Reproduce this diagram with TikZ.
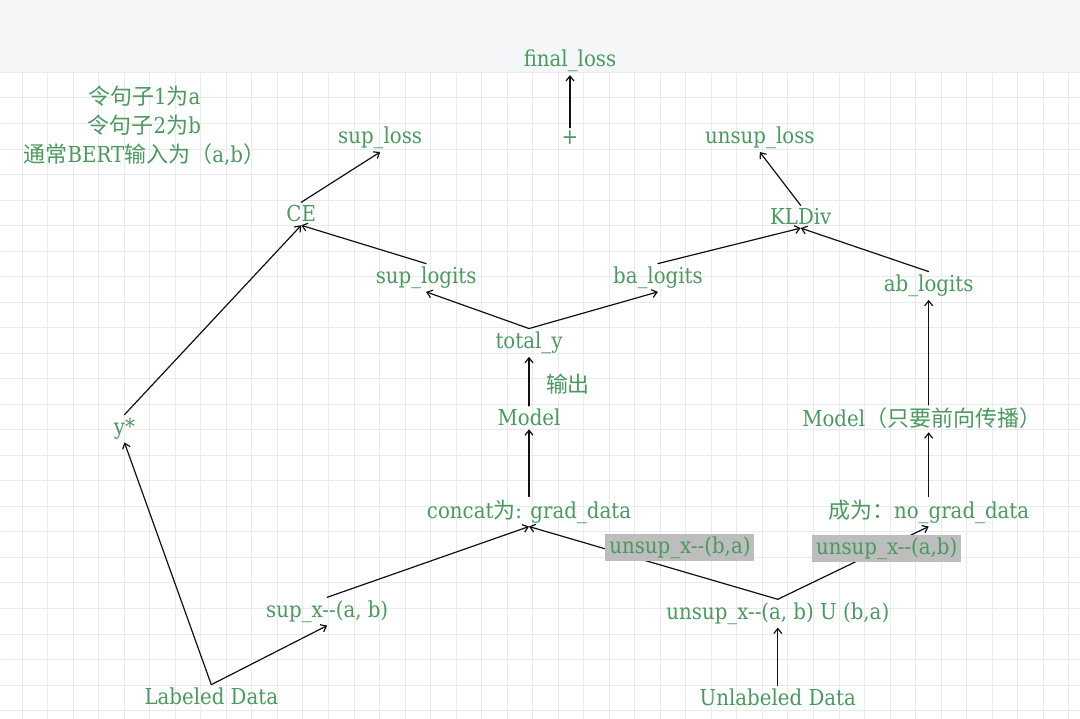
\documentclass[tikz,border=0pt]{standalone}
\usepackage{fontspec}
\setmainfont{DejaVu Serif Condensed}
\newfontfamily\cjk{Noto Sans CJK SC}
\usetikzlibrary{arrows.meta}
\newcommand{\Unit}{1pt}
\newcommand{\Cell}{25.55}
\definecolor{sheet}{HTML}{F5F6F8}
\definecolor{rule}{HTML}{EAEAEA}
\definecolor{leaf}{HTML}{4A9A5F}
\definecolor{ink}{HTML}{111111}
\definecolor{tag}{HTML}{BDBDBD}

\begin{document}
\begin{tikzpicture}[x=\Unit,y=-\Unit, line join=round, line cap=round,
  lbl/.style={text=leaf, font=\fontsize{22}{29}\selectfont, inner sep=3pt},
  flow/.style={draw=ink, line width=1.2pt, -{Straight Barb[length=5pt,width=8pt]}},
  tagbox/.style={lbl, fill=tag, inner xsep=4pt, inner ysep=3pt}]

  % ---- background: a flat strip on top, squared paper below ---------------
  \fill[white] (0,0) rectangle (1080,719);
  \fill[sheet] (0,0) rectangle (1080,72.5);
  \foreach \k in {0,...,41} {
    \draw[rule,line width=1pt] ({21.7+\k*\Cell},72.5) -- ({21.7+\k*\Cell},719);
  }
  \foreach \k in {0,...,25} {
    \draw[rule,line width=1pt] (0,{72.5+\k*\Cell}) -- (1080,{72.5+\k*\Cell});
  }
  \useasboundingbox (0,0) rectangle (1080,719);

  % ---- losses ---------------------------------------------------------------
  \node[lbl] (final)     at (570,61)  {final\_loss};
  \node[lbl] (plus)      at (570,138) {+};
  \node[lbl] (suploss)   at (380,138) {sup\_loss};
  \node[lbl] (unsuploss) at (760,138) {unsup\_loss};
  \node[lbl] (ce)        at (301,214) {CE};
  \node[lbl] (kldiv)     at (801,217) {KLDiv};

  % The note on the inputs, top left.
  \node[lbl,align=center] (note) at (144,126)
    {{\cjk 令句子}1{\cjk 为}a\\ {\cjk 令句子}2{\cjk 为}b\\
     {\cjk 通常}BERT{\cjk 输入为（}a,b{\cjk ）}};

  % ---- logits and model outputs -------------------------------------------
  \node[lbl] (suplogits) at (426,278) {sup\_logits};
  \node[lbl] (balogits)  at (658,278) {ba\_logits};
  \node[lbl] (ablogits)  at (929,286) {ab\_logits};
  \node[lbl] (totaly)    at (529,343) {total\_y};
  \node[lbl] (output)    at (568,384) {{\cjk 输出}};
  \node[lbl] (model)     at (529,418) {Model};
  \node[lbl] (modelfwd)  at (922,419) {Model{\cjk （只要前向传播）}};
  \node[lbl] (ystar)     at (124,429) {y*};

  % ---- data -----------------------------------------------------------------
  \node[lbl] (concat)    at (529,512) {concat{\cjk 为}: grad\_data};
  \node[lbl] (nograd)    at (929,512) {{\cjk 成为：}no\_grad\_data};
  \node[lbl] (supx)      at (327,612) {sup\_x-{}-(a, b)};
  \node[lbl] (unsupx)    at (778,614) {unsup\_x-{}-(a, b) U (b,a)};
  \node[lbl] (labeled)   at (211,697) {Labeled Data};
  \node[lbl] (unlabeled) at (778,698) {Unlabeled Data};

  % ---- connectors -----------------------------------------------------------
  \draw[flow] (plus) -- (final);
  \draw[flow] (ce.north) -- (suploss.south);
  \draw[flow] (kldiv.north) -- (unsuploss.south);
  \draw[flow] (suplogits.north) -- (ce.south);
  \draw[flow] (ystar.north) -- (ce.south);
  \draw[flow] (balogits.north) -- (kldiv.south);
  \draw[flow] (ablogits.north) -- (kldiv.south);
  \draw[flow] (totaly.north) -- (suplogits.south);
  \draw[flow] (totaly.north) -- (balogits.south);
  \draw[flow] (model) -- (totaly);
  \draw[flow] (concat) -- (model);
  \draw[flow] (nograd.north) -- (nograd.north |- modelfwd.south);
  \draw[flow] (nograd.north |- modelfwd.north) -- (ablogits.south);
  \draw[flow] (labeled.north) -- (ystar.south);
  \draw[flow] (labeled.north) -- (supx.south);
  \draw[flow] (supx.north) -- (concat.south);
  \draw[flow] (unsupx.north) -- (concat.south);
  \draw[flow] (unsupx.north) -- (nograd.south);
  \draw[flow] (unlabeled) -- (unsupx);

  % The two gray tags sit over the lines they name.
  \node[tagbox] (unsupba) at (680,548) {unsup\_x-{}-(b,a)};
  \node[tagbox] (unsupab) at (887,549) {unsup\_x-{}-(a,b)};

\end{tikzpicture}
\end{document}
